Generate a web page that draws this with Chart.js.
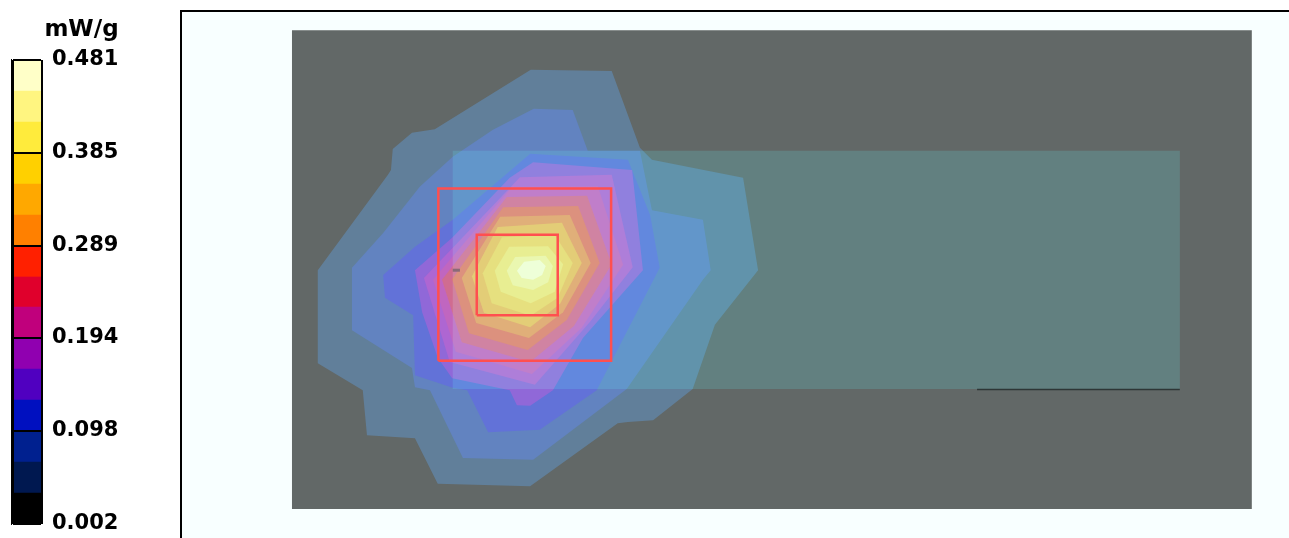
<!DOCTYPE html>
<html>
<head>
<meta charset="utf-8">
<script src="https://cdn.jsdelivr.net/npm/chart.js@4.4.1/dist/chart.umd.min.js"></script>
<style>
  html, body { margin: 0; padding: 0; background: #ffffff; overflow: hidden; }
  #wrap { position: relative; width: 1289px; height: 538px; }
  #field { position: absolute; left: 0; top: 0; }
  #scale { position: absolute; left: 11px; top: 0; }
</style>
</head>
<body>
<div id="wrap">
  <canvas id="field" width="1289" height="538"></canvas>
  <canvas id="scale" width="139" height="538"></canvas>
</div>
<script>
// ---- colour scale (mW/g) ----
const UNIT_LABEL = 'mW/g';
const LEVEL_EDGES = [0.002, 0.034, 0.066, 0.098, 0.130, 0.162, 0.194, 0.226, 0.257, 0.289, 0.321, 0.353, 0.385, 0.417, 0.449, 0.481];
const LEVEL_COLORS = ['#000000', '#001850', '#00208f', '#0010c0', '#5000c0', '#9000b0', '#c0007c', '#e0002c',
                      '#ff2000', '#ff8000', '#ffa800', '#ffd000', '#ffeb3c', '#fff580', '#ffffc8'];
const TICK_VALUES = [0.002, 0.098, 0.194, 0.289, 0.385, 0.481];

// ---- scan geometry, mm ----
const X_RANGE = [-18.5, 166.2];
const Y_RANGE = [-4.83, 83];
const SCAN_AREA = [[0, 0], [0, 79.8], [160, 79.8], [160, 0]];
const PHONE_OUTLINE = [[26.8, 20], [26.8, 59.7], [148, 59.7], [148, 20]];
const PHONE_EDGE = [[114.2, 19.9], [148, 19.9]];
const PROBE_MARK = [[26.8, 39.8], [28, 39.8]];
const AREA_SCAN_BOX = [[24.4, 24.7], [24.4, 53.4], [53.2, 53.4], [53.2, 24.7], [24.4, 24.7]];
const ZOOM_SCAN_BOX = [[30.8, 32.3], [30.8, 45.7], [44.3, 45.7], [44.3, 32.3], [30.8, 32.3]];

// ---- SAR iso-level regions, outermost first (mm) ----
const LEVEL_02 = [[4.3, 39.8], [4.3, 24.3], [11.8, 19.8], [12.5, 12.3], [20.5, 11.8], [24.3, 4.2], [39.7, 3.8], [54.3, 14.3],
  [56, 14.5], [60.2, 14.8], [66.8, 20], [70.5, 30.7], [77.7, 39.8], [75.2, 55.2], [60, 58.2], [58, 60.2], [53.3, 73],
  [39.8, 73.2], [23.8, 63.3], [20, 62.7], [16.8, 60], [16.5, 56.5], [16, 55.7]];
const LEVEL_03 = [[10, 40.2], [10, 29.8], [20, 23.5], [20.5, 20.3], [23, 19.8], [28.5, 8.5], [40.2, 8.2], [55.8, 20],
  [68.5, 38.2], [69.8, 39.8], [68.5, 48.2], [60, 49.8], [58, 59.7], [49.3, 59.7], [46.8, 66.5], [40.3, 66.7],
  [33.5, 63.2], [26.8, 58.7], [21.3, 53.7], [15.2, 46]];
const LEVEL_04 = [[15.2, 39], [15.5, 35.2], [20.2, 32.3], [20.5, 22.3], [26.8, 20.2], [29.2, 19.8], [32.7, 12.8],
  [41.3, 13.2], [50.8, 19.8], [61.3, 40.2], [59.7, 49], [56, 58.2], [39.7, 59.2], [26.8, 48.2], [20.5, 43.7]];
const LEVEL_05 = [[20.5, 39.8], [26.7, 45.2], [36.3, 55.2], [40.2, 57.8], [56.7, 56.5], [58.5, 39.8], [48.5, 28.5],
  [43.5, 19.8], [39.7, 17.2], [37.5, 17.3], [36.3, 19.8], [26.7, 21.8], [24.3, 25.2], [21.7, 32.8]];
const LEVEL_06 = [[22, 38.5], [38, 55.3], [53.3, 55.7], [56.8, 40.3], [49.7, 31.2], [40.5, 20.7], [26.3, 24.5]];
const LEVEL_07 = [[23.5, 38.2], [36.7, 53.7], [51, 53.8], [55.2, 40.7], [48.3, 30.2], [40, 22.5], [27.3, 26.2]];
const LEVEL_08 = [[25, 38.2], [35.8, 52], [49.2, 52.2], [53.3, 40.8], [47, 30.5], [39.7, 24.5], [28.3, 27.8]];
const LEVEL_09 = [[26.7, 38.3], [35.2, 50.3], [47.7, 50.5], [51.3, 41], [45.8, 31.5], [39.3, 26.5], [29.5, 29.3]];
const LEVEL_10 = [[28.3, 38.5], [34.7, 48.7], [46.3, 49], [49.8, 41], [45.2, 32.8], [39.5, 28.5], [30.7, 31]];
const LEVEL_11 = [[30, 38.8], [34.3, 47], [45, 47.7], [48.3, 41], [44.7, 34.2], [39.7, 30.3], [32, 32.7]];
const LEVEL_12 = [[31.8, 39.3], [35, 45.3], [43.8, 45.7], [46.8, 41], [44.3, 35.2], [39.8, 32.2], [33.3, 34.3]];
const LEVEL_13 = [[33.8, 39.7], [36.2, 43.7], [42.7, 43.8], [45.2, 40.8], [43.8, 36.2], [39.8, 34.3], [34.8, 36.2]];
const LEVEL_14 = [[35.8, 39.7], [37.2, 42], [42.3, 42.2], [43.5, 40.5], [42.7, 37.8], [40.2, 36.5], [36.8, 37.3]];
const LEVEL_15 = [[37.5, 39.7], [38.7, 41.2], [41.3, 41.5], [42.3, 40.5], [41.7, 39], [40.2, 38.2], [38.3, 38.5]];
const CONTOURS = [LEVEL_02, LEVEL_03, LEVEL_04, LEVEL_05, LEVEL_06, LEVEL_07, LEVEL_08,
                  LEVEL_09, LEVEL_10, LEVEL_11, LEVEL_12, LEVEL_13, LEVEL_14, LEVEL_15];
const CONTOUR_COLORS = ['#617f9a', '#6283c0', '#6272d8', '#9068d8', '#ae66d2', '#c066c0', '#d06c90',
                        '#dc7c64', '#e0a05e', '#e3c45c', '#e6da66', '#e8eb7c', '#eaf5a0', '#eeffd0'];

const SCAN_COLOR = '#626867';
const PHONE_TINT = 'rgb(0,40,42)';
const BOX_COLOR = '#ff4f4f';
const FONT = 'DejaVu Sans';

Chart.defaults.font.family = FONT;

// fills the plotting rectangle before anything else is drawn
const plotBackground = {
  id: 'plotBackground',
  beforeDraw(chart, args, opts) {
    const { ctx, chartArea: a } = chart;
    ctx.save();
    ctx.fillStyle = opts.color;
    ctx.fillRect(a.left, a.top, a.right - a.left, a.bottom - a.top);
    ctx.restore();
  }
};

// lets a dataset carry its own canvas compositing mode (the handset tint is screened over the field)
const blendModes = {
  id: 'blendModes',
  beforeDatasetsDraw(chart) {
    const metas = chart.getSortedVisibleDatasetMetas();
    const first = metas[metas.length - 1];
    chart.ctx.globalCompositeOperation = (first && chart.data.datasets[first.index].blendMode) || 'source-over';
  },
  afterDatasetDraw(chart, args) {
    const metas = chart.getSortedVisibleDatasetMetas();
    const pos = metas.indexOf(args.meta);
    const next = metas[pos - 1];
    chart.ctx.globalCompositeOperation = (next && chart.data.datasets[next.index].blendMode) || 'source-over';
  },
  afterDatasetsDraw(chart) {
    chart.ctx.globalCompositeOperation = 'source-over';
  }
};

function toPoints(list) {
  return list.map(([x, y]) => ({ x, y }));
}

function region(list, color, order, extra) {
  return Object.assign({
    data: toPoints(list), showLine: true, fill: 'shape', backgroundColor: color,
    borderWidth: 0, pointRadius: 0, pointHoverRadius: 0, order
  }, extra || {});
}

function outline(list, color, width, order) {
  return {
    data: toPoints(list), showLine: true, fill: false, borderColor: color, borderWidth: width,
    borderJoinStyle: 'miter', borderCapStyle: 'butt', pointRadius: 0, pointHoverRadius: 0, order
  };
}

const fieldSets = [region(SCAN_AREA, SCAN_COLOR, 40)];
CONTOURS.forEach((pts, i) => fieldSets.push(region(pts, CONTOUR_COLORS[i], 30 - i)));
fieldSets.push(region(PHONE_OUTLINE, PHONE_TINT, 10, { blendMode: 'screen' }));
fieldSets.push(outline(PHONE_EDGE, '#2e3636', 1.5, 6));
fieldSets.push(outline(PROBE_MARK, '#8a6a78', 3, 5));
fieldSets.push(outline(AREA_SCAN_BOX, BOX_COLOR, 2.5, 2));
fieldSets.push(outline(ZOOM_SCAN_BOX, BOX_COLOR, 2.5, 1));

const hiddenAxis = {
  type: 'linear',
  ticks: { display: false },
  grid: { display: true, drawOnChartArea: false, drawTicks: false, color: 'rgba(0,0,0,0)' },
  border: { display: true, color: '#000000', width: 2 }
};

new Chart(document.getElementById('field'), {
  type: 'scatter',
  data: { datasets: fieldSets },
  options: {
    responsive: false,
    animation: false,
    events: [],
    layout: { padding: { left: 181, top: 11, right: 0, bottom: 0 } },
    plugins: {
      legend: { display: false },
      tooltip: { enabled: false },
      plotBackground: { color: '#f8ffff' }
    },
    scales: {
      x: Object.assign({}, hiddenAxis, {
        position: 'top', min: X_RANGE[0], max: X_RANGE[1],
        afterFit(scale) { scale.height = 0; scale.paddingLeft = 0; scale.paddingRight = 0; }
      }),
      y: Object.assign({}, hiddenAxis, {
        position: 'left', min: Y_RANGE[0], max: Y_RANGE[1],
        afterFit(scale) { scale.width = 0; scale.paddingTop = 0; scale.paddingBottom = 0; }
      })
    }
  },
  plugins: [plotBackground, blendModes]
});

// ---- colour bar ----
const labelFont = { family: FONT, weight: 'bold', size: 21 };

new Chart(document.getElementById('scale'), {
  type: 'bar',
  data: {
    labels: [''],
    datasets: LEVEL_COLORS.map((color, i) => ({
      data: [[LEVEL_EDGES[i], LEVEL_EDGES[i + 1]]],
      backgroundColor: color,
      borderWidth: 0,
      barPercentage: 1,
      categoryPercentage: 1,
      grouped: false
    }))
  },
  options: {
    responsive: false,
    animation: false,
    events: [],
    layout: { padding: { left: 2, top: 0, right: 0, bottom: 14 } },
    plugins: {
      legend: { display: false },
      tooltip: { enabled: false },
      title: {
        display: true, text: UNIT_LABEL, color: '#000000',
        font: { family: FONT, weight: 'bold', size: 23 },
        padding: { top: 16, bottom: 16.4 }
      }
    },
    scales: {
      x: {
        offset: true,
        ticks: { display: false },
        grid: { offset: true, color: '#000000', lineWidth: 2, drawTicks: false, z: 1 },
        border: { display: false },
        afterFit(scale) { scale.height = 0; scale.paddingLeft = 0; scale.paddingRight = 0; }
      },
      y: {
        type: 'linear',
        position: 'right',
        min: LEVEL_EDGES[0],
        max: LEVEL_EDGES[LEVEL_EDGES.length - 1],
        afterBuildTicks(scale) { scale.ticks = TICK_VALUES.map(v => ({ value: v })); },
        ticks: { color: '#000000', padding: 10, font: labelFont, callback: v => Number(v).toFixed(3) },
        grid: { color: '#000000', lineWidth: 2, drawTicks: false, z: 1 },
        border: { display: true, color: '#000000', width: 2 },
        afterFit(scale) { scale.width = 108; scale.paddingTop = 0; scale.paddingBottom = 0; }
      }
    }
  }
});
</script>
</body>
</html>
